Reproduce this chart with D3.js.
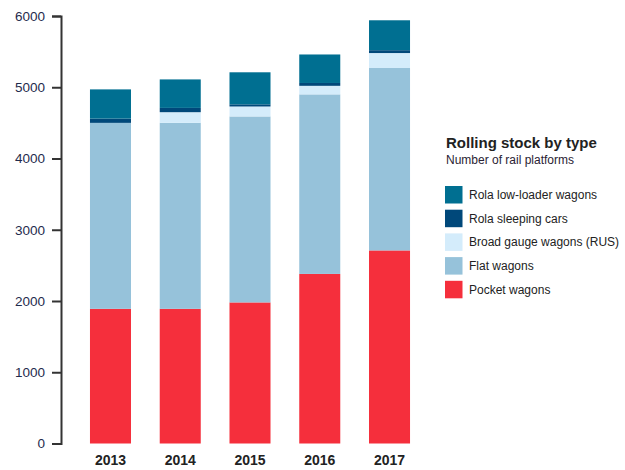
<!DOCTYPE html>
<html><head><meta charset="utf-8">
<script src="https://cdn.jsdelivr.net/npm/d3@7"></script>
<style>body{margin:0;background:#fff}svg{display:block}</style>
</head><body>
<svg id="c" width="625" height="470"></svg>
<script>
const years = ["2013","2014","2015","2016","2017"];
const pocketWagons = [1890,1890,1980,2380,2710];
const flatWagons = [2610,2610,2610,2520,2560];
const broadGauge = [0,150,140,120,210];
const rolaSleeping = [60,60,30,40,40];
const rolaLowLoader = [410,400,450,400,420];
const seriesNames = ["Pocket wagons","Flat wagons","Broad gauge wagons (RUS)","Rola sleeping cars","Rola low-loader wagons"];
const seriesColors = ["#f52f3c","#96c2da","#d4ecfb","#00487a","#006f91"];
const yTicks = [0,1000,2000,3000,4000,5000,6000];
const legendTitle = "Rolling stock by type";
const legendSubtitle = "Number of rail platforms";

const seriesData = [pocketWagons, flatWagons, broadGauge, rolaSleeping, rolaLowLoader];
const rows = years.map((y,i)=>{const r={year:y}; seriesNames.forEach((n,k)=>r[n]=seriesData[k][i]); return r;});
const stack = d3.stack().keys(seriesNames)(rows);

const svg = d3.select("#c");
const x = d3.scaleBand().domain(years).range([75.6,424.4]).paddingInner(0.412).paddingOuter(0.206);
const y = d3.scaleLinear().domain([0,6000]).range([443.5,16]);

const g = svg.append("g");
g.selectAll("g.s").data(stack).join("g").attr("fill",(d,i)=>seriesColors[i])
 .selectAll("rect").data(d=>d).join("rect")
 .attr("x",d=>x(d.data.year)).attr("width",x.bandwidth())
 .attr("y",d=>y(d[1])).attr("height",d=>y(d[0])-y(d[1]));

const ya = svg.append("g").attr("transform","translate(61,0)")
 .call(d3.axisLeft(y).tickValues(yTicks).tickFormat(d3.format("d")).tickSize(9).tickSizeOuter(9).tickPadding(7));
ya.select(".domain").attr("stroke","#333").attr("stroke-width",2);
ya.selectAll(".tick line").attr("stroke","#333").attr("stroke-width",2);
ya.selectAll("text").attr("fill","#1f2b4d").style("font-family","Liberation Sans, Arial, sans-serif").style("font-size","13.5px");

const xa = svg.append("g").attr("transform","translate(0,443.5)")
 .call(d3.axisBottom(x).tickSize(0).tickPadding(12));
xa.select(".domain").remove();
xa.selectAll("text").attr("fill","#222").style("font-family","Liberation Sans, Arial, sans-serif").style("font-size","14px").style("font-weight","bold");

const lg = svg.append("g").style("font-family","Liberation Sans, Arial, sans-serif");
lg.append("text").attr("x",446).attr("y",148).text(legendTitle).attr("fill","#222").style("font-size","15px").style("font-weight","bold");
lg.append("text").attr("x",446).attr("y",164).text(legendSubtitle).attr("fill","#2a2233").style("font-size","12px");
const order = [4,3,2,1,0];
const items = lg.selectAll("g.item").data(order).join("g").attr("transform",(d,i)=>`translate(445,${186+i*23.7})`);
items.append("rect").attr("width",17.5).attr("height",17.5).attr("fill",d=>seriesColors[d]);
items.append("text").attr("x",24).attr("y",13).text(d=>seriesNames[d]).attr("fill","#222").style("font-size","12px");
</script>
</body></html>
